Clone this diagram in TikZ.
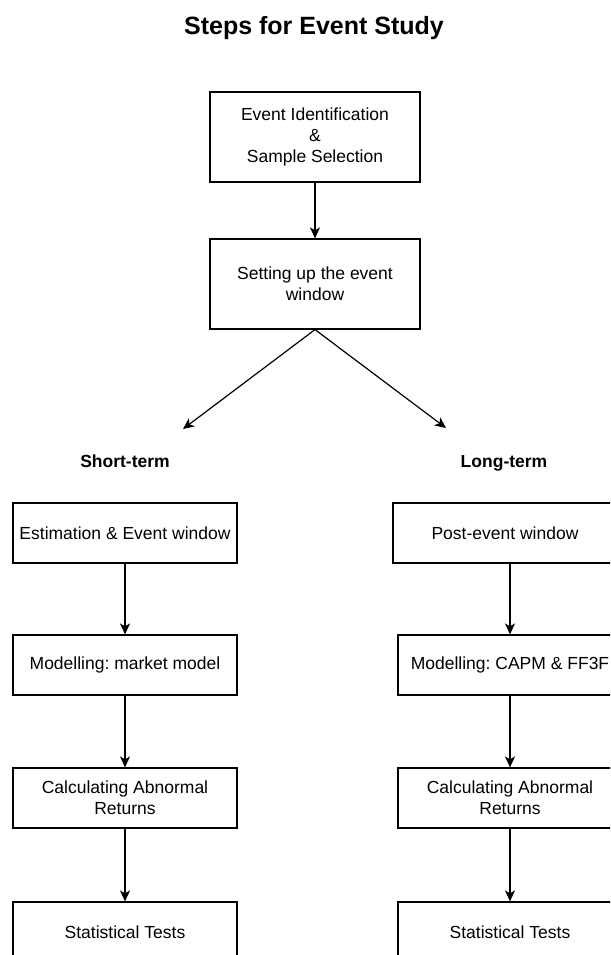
\documentclass[tikz,border=0pt]{standalone}
\usepackage{fontspec}
\setmainfont{Liberation Sans}
\frenchspacing
\usetikzlibrary{arrows.meta}
\tikzset{
	etape/.style={draw, line width=1.2pt, align=center, inner sep=0pt, minimum width=224pt, minimum height=60pt, font=\fontsize{17.5}{21}\selectfont},
	grande/.style={minimum width=210pt, minimum height=90pt},
	fleche/.style={-{Stealth[length=11pt,width=10pt,inset=3pt]}, line width=1.2pt},
	branche/.style={anchor=base, font=\bfseries\fontsize{17.5}{21}\selectfont}
}
\begin{document}
\begin{tikzpicture}[x=1pt,y=-1pt]
	\clip (0,0) rectangle (610,955);
	% le titre
	\node (titre) at (314,28) {\bfseries\fontsize{25}{30}\selectfont Steps for Event Study};
	% les deux premieres etapes
	\node[etape, grande] (ident) at (315,137) {Event Identification\\\&\\Sample Selection};
	\node[etape, grande] (fenetre) at (315,284) {Setting up the event\\window};
	\draw[fleche] (ident) -- (fenetre);
	% les deux branches
	\coordinate (finCourt) at (183,429);
	\coordinate (finLong) at (446,428);
	\draw[fleche] (fenetre.south) -- (finCourt);
	\draw[fleche] (fenetre.south) -- (finLong);
	\node[branche] (court) at (125,467) {Short-term};
	\node[branche] (long) at (504,467) {Long-term};
	% court terme
	\node[etape] (cFen) at (125,533) {Estimation \& Event window};
	\node[etape] (cMod) at (125,665) {Modelling: market model};
	\node[etape] (cCalc) at (125,798) {Calculating Abnormal\\Returns};
	\node[etape] (cTest) at (125,932) {Statistical Tests};
	\draw[fleche] (cFen) -- (cMod);
	\draw[fleche] (cMod) -- (cCalc);
	\draw[fleche] (cCalc) -- (cTest);
	% long terme
	\node[etape, minimum width=234pt] (lFen) at (510,533) {\hspace*{-10pt}Post-event window};
	\node[etape] (lMod) at (510,665) {Modelling: CAPM \& FF3F};
	\node[etape] (lCalc) at (510,798) {Calculating Abnormal\\Returns};
	\node[etape] (lTest) at (510,932) {Statistical Tests};
	\draw[fleche] (lFen) -- (lMod);
	\draw[fleche] (lMod) -- (lCalc);
	\draw[fleche] (lCalc) -- (lTest);
\end{tikzpicture}
\end{document}
